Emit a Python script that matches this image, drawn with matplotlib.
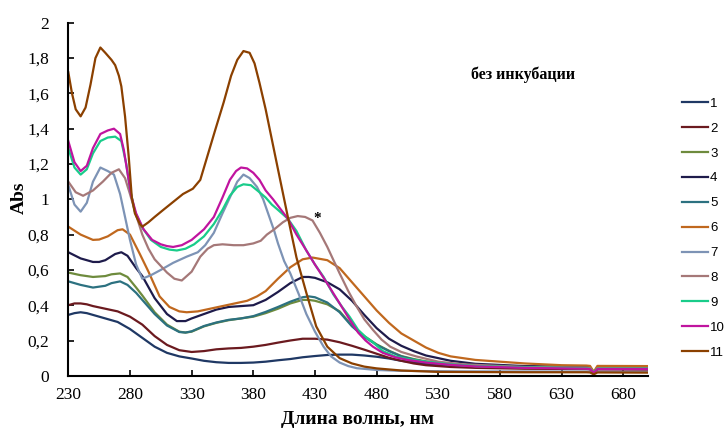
import matplotlib
matplotlib.use("Agg")
import matplotlib.pyplot as plt

# ---- spectra (wavelength, nm / absorbance) ----
wl_1 = [230, 235, 240, 245, 250, 260, 270, 280, 290, 300, 310, 320, 330, 340, 350, 360, 370, 380, 390, 400,
        410, 420, 430, 440, 450, 460, 470, 480, 490, 500, 520, 540, 560, 600, 650, 653, 656, 659, 700]
abs_1 = [0.345, 0.355, 0.36, 0.355, 0.345, 0.325, 0.305, 0.265, 0.215, 0.165, 0.13, 0.11, 0.098, 0.085, 0.077,
         0.073, 0.073, 0.075, 0.08, 0.088, 0.095, 0.105, 0.112, 0.118, 0.12, 0.12, 0.115, 0.108, 0.098, 0.085,
         0.068, 0.058, 0.052, 0.046, 0.042, 0.04, 0.018, 0.04, 0.038]

wl_2 = [230, 235, 240, 245, 250, 260, 270, 280, 290, 300, 310, 320, 330, 340, 350, 360, 370, 380, 390, 400,
        410, 420, 430, 440, 450, 460, 470, 480, 490, 500, 510, 520, 540, 560, 600, 650, 653, 656, 659, 700]
abs_2 = [0.40, 0.41, 0.41, 0.405, 0.395, 0.38, 0.365, 0.335, 0.29, 0.225, 0.175, 0.145, 0.135, 0.14, 0.15,
         0.155, 0.158, 0.165, 0.175, 0.188, 0.2, 0.21, 0.21, 0.205, 0.19, 0.17, 0.148, 0.125, 0.102, 0.085,
         0.07, 0.06, 0.05, 0.045, 0.04, 0.038, 0.036, 0.016, 0.036, 0.035]

wl_3 = [230, 240, 250, 260, 265, 272, 278, 285, 290, 300, 310, 320, 325, 330, 340, 350, 360, 370, 380, 390,
        400, 410, 420, 425, 430, 440, 450, 460, 470, 480, 490, 500, 510, 520, 540, 560, 600, 650, 653, 656,
        659, 700]
abs_3 = [0.585, 0.57, 0.56, 0.565, 0.575, 0.58, 0.56, 0.50, 0.455, 0.36, 0.29, 0.25, 0.245, 0.25, 0.28, 0.30,
         0.315, 0.325, 0.335, 0.355, 0.38, 0.41, 0.43, 0.43, 0.425, 0.405, 0.365, 0.285, 0.225, 0.178, 0.142,
         0.112, 0.095, 0.082, 0.065, 0.056, 0.05, 0.046, 0.044, 0.02, 0.044, 0.043]

wl_4 = [230, 240, 250, 255, 260, 268, 273, 278, 285, 290, 300, 310, 318, 325, 330, 340, 350, 360, 370, 380,
        390, 400, 410, 420, 425, 430, 440, 450, 460, 470, 480, 490, 500, 510, 520, 540, 560, 600, 650, 653,
        656, 659, 700]
abs_4 = [0.70, 0.665, 0.645, 0.645, 0.655, 0.69, 0.70, 0.68, 0.61, 0.565, 0.44, 0.35, 0.31, 0.31, 0.325, 0.35,
         0.375, 0.39, 0.395, 0.40, 0.43, 0.475, 0.525, 0.56, 0.56, 0.555, 0.53, 0.49, 0.425, 0.345, 0.27, 0.21,
         0.17, 0.14, 0.115, 0.085, 0.068, 0.055, 0.05, 0.048, 0.02, 0.048, 0.046]

wl_5 = [230, 240, 250, 260, 265, 272, 278, 285, 290, 300, 310, 320, 325, 330, 340, 350, 360, 370, 380, 390,
        400, 410, 420, 425, 430, 440, 450, 460, 470, 480, 490, 500, 510, 520, 540, 560, 600, 650, 653, 656,
        659, 700]
abs_5 = [0.535, 0.515, 0.50, 0.51, 0.525, 0.535, 0.515, 0.47, 0.43, 0.35, 0.285, 0.248, 0.245, 0.252, 0.282,
         0.302, 0.317, 0.325, 0.338, 0.362, 0.39, 0.42, 0.445, 0.45, 0.445, 0.415, 0.36, 0.28, 0.22, 0.175,
         0.14, 0.11, 0.092, 0.078, 0.062, 0.055, 0.05, 0.047, 0.045, 0.02, 0.045, 0.044]

wl_6 = [230, 240, 250, 255, 262, 270, 274, 280, 288, 295, 304, 312, 320, 326, 335, 345, 355, 365, 375, 383,
        390, 400, 410, 420, 428, 440, 450, 460, 470, 480, 490, 500, 510, 520, 530, 540, 560, 580, 600, 630,
        650, 653, 656, 659, 700]
abs_6 = [0.845, 0.80, 0.77, 0.772, 0.79, 0.825, 0.83, 0.80, 0.69, 0.59, 0.45, 0.39, 0.365, 0.36, 0.365, 0.38,
         0.395, 0.41, 0.425, 0.45, 0.48, 0.55, 0.615, 0.66, 0.67, 0.655, 0.61, 0.53, 0.45, 0.37, 0.30, 0.24,
         0.20, 0.16, 0.13, 0.11, 0.09, 0.08, 0.07, 0.06, 0.058, 0.056, 0.022, 0.056, 0.055]

wl_7 = [230, 235, 240, 245, 250, 256, 262, 267, 272, 276, 280, 285, 290, 297, 305, 315, 326, 335, 341, 348,
        355, 361, 367, 372, 377, 383, 388, 393, 397, 400, 405, 410, 417, 423, 430, 437, 443, 450, 457, 464,
        480, 500, 550, 650, 653, 656, 659, 700]
abs_7 = [1.08, 0.97, 0.93, 0.98, 1.10, 1.18, 1.16, 1.14, 1.03, 0.90, 0.77, 0.63, 0.55, 0.57, 0.60, 0.64, 0.675,
         0.70, 0.74, 0.81, 0.92, 1.01, 1.10, 1.14, 1.12, 1.07, 1.00, 0.90, 0.82, 0.75, 0.65, 0.58, 0.46, 0.35,
         0.25, 0.165, 0.11, 0.075, 0.055, 0.043, 0.033, 0.028, 0.025, 0.024, 0.023, 0.012, 0.023, 0.022]

wl_8 = [230, 236, 242, 250, 258, 265, 271, 276, 280, 285, 290, 295, 300, 310, 316, 322, 330, 337, 343, 348,
        355, 364, 372, 380, 386, 391, 397, 404, 410, 416, 422, 428, 434, 440, 450, 457, 464, 470, 477, 484,
        491, 500, 512, 530, 550, 600, 650, 653, 656, 659, 700]
abs_8 = [1.10, 1.04, 1.02, 1.05, 1.10, 1.15, 1.17, 1.12, 1.03, 0.91, 0.80, 0.72, 0.66, 0.585, 0.55, 0.54,
         0.59, 0.675, 0.72, 0.74, 0.745, 0.74, 0.74, 0.75, 0.765, 0.80, 0.83, 0.87, 0.895, 0.905, 0.90, 0.88,
         0.81, 0.73, 0.58, 0.48, 0.39, 0.32, 0.26, 0.205, 0.165, 0.135, 0.11, 0.08, 0.065, 0.05, 0.045, 0.043,
         0.02, 0.043, 0.042]

wl_9 = [230, 235, 240, 245, 250, 256, 262, 268, 273, 277, 280, 284, 290, 297, 305, 312, 318, 325, 332, 340,
        348, 355, 361, 367, 372, 378, 385, 390, 395, 400, 408, 415, 423, 430, 437, 445, 452, 458, 465, 471,
        477, 485, 495, 505, 520, 540, 560, 600, 650, 653, 656, 659, 700]
abs_9 = [1.29, 1.18, 1.14, 1.17, 1.26, 1.33, 1.35, 1.355, 1.33, 1.20, 1.06, 0.93, 0.84, 0.77, 0.73, 0.715,
         0.71, 0.72, 0.745, 0.79, 0.86, 0.94, 1.02, 1.07, 1.085, 1.08, 1.04, 1.01, 0.97, 0.94, 0.89, 0.82,
         0.71, 0.63, 0.56, 0.46, 0.39, 0.335, 0.26, 0.22, 0.19, 0.14, 0.11, 0.095, 0.08, 0.065, 0.055, 0.048,
         0.042, 0.04, 0.018, 0.04, 0.04]

wl_10 = [230, 235, 240, 245, 250, 256, 262, 267, 272, 275, 278, 281, 285, 291, 298, 305, 310, 315, 322, 330,
         340, 348, 355, 361, 366, 370, 375, 380, 385, 390, 396, 402, 408, 415, 423, 430, 437, 442, 450, 458,
         465, 471, 477, 485, 495, 505, 520, 540, 560, 600, 650, 653, 656, 659, 700]
abs_10 = [1.33, 1.21, 1.16, 1.19, 1.29, 1.37, 1.39, 1.40, 1.37, 1.28, 1.15, 1.02, 0.92, 0.83, 0.77, 0.745,
          0.735, 0.73, 0.74, 0.77, 0.83, 0.90, 1.01, 1.11, 1.16, 1.18, 1.175, 1.15, 1.11, 1.05, 1.00, 0.945,
          0.89, 0.80, 0.71, 0.63, 0.555, 0.50, 0.41, 0.32, 0.245, 0.20, 0.165, 0.13, 0.105, 0.09, 0.075, 0.062,
          0.053, 0.045, 0.04, 0.038, 0.016, 0.038, 0.038]

wl_11 = [230, 233, 236, 240, 244, 248, 252, 256, 260, 265, 268, 271, 273, 276, 279, 281.5, 284, 288, 290,
         295, 300, 307, 315, 323, 331, 337, 343, 349, 356, 362, 367, 372, 377, 381, 385, 390, 395, 400, 408,
         415, 423, 431, 440, 450, 460, 470, 480, 500, 530, 600, 650, 653, 656, 659, 700]
abs_11 = [1.72, 1.60, 1.51, 1.47, 1.52, 1.65, 1.80, 1.86, 1.83, 1.79, 1.76, 1.70, 1.64, 1.47, 1.24, 1.01,
          0.92, 0.86, 0.845, 0.87, 0.90, 0.94, 0.985, 1.03, 1.06, 1.11, 1.25, 1.39, 1.55, 1.70, 1.79, 1.84,
          1.83, 1.77, 1.66, 1.51, 1.34, 1.17, 0.90, 0.67, 0.47, 0.28, 0.165, 0.10, 0.07, 0.052, 0.042, 0.03,
          0.022, 0.02, 0.02, 0.019, 0.008, 0.019, 0.018]

series_labels = ["1", "2", "3", "4", "5", "6", "7", "8", "9", "10", "11"]
series_colors = ["#1F3864", "#6B1A1F", "#6E8B3D", "#1E1B4B", "#2C7180", "#C0681E",
                 "#7D93B5", "#A57878", "#19CC8A", "#C0149F", "#8B4000"]

x_ticks = [230, 280, 330, 380, 430, 480, 530, 580, 630, 680]
y_ticks = [0, 0.2, 0.4, 0.6, 0.8, 1.0, 1.2, 1.4, 1.6, 1.8, 2.0]
y_tick_labels = ["0", "0,2", "0,4", "0,6", "0,8", "1", "1,2", "1,4", "1,6", "1,8", "2"]

# mark annotated with an asterisk (curve 8 maximum region)
star_pos = (432, 0.89)

W, H = 726, 428
fig = plt.figure(figsize=(W / 100, H / 100), dpi=100)
ax = fig.add_axes([68.3 / W, 1 - 375.8 / H, (648 - 68.3) / W, (375.8 - 22.8) / H])

all_wl = [wl_1, wl_2, wl_3, wl_4, wl_5, wl_6, wl_7, wl_8, wl_9, wl_10, wl_11]
all_abs = [abs_1, abs_2, abs_3, abs_4, abs_5, abs_6, abs_7, abs_8, abs_9, abs_10, abs_11]
for x, y, lab, col in zip(all_wl, all_abs, series_labels, series_colors):
    ax.plot(x, y, color=col, lw=1.6, label=lab, solid_joinstyle="round")

ax.set_xlim(230, 700)
ax.set_ylim(0, 2)
serif = "Liberation Serif"
ax.set_xticks(x_ticks)
ax.set_xticklabels([str(v) for v in x_ticks], family=serif, fontsize=12.5)
ax.set_yticks(y_ticks)
ax.set_yticklabels(y_tick_labels, family=serif, fontsize=12.5)
ax.tick_params(direction="in", length=4, width=1.2, color="black", pad=8)
ax.tick_params(axis="y", pad=14)
for side in ("top", "right"):
    ax.spines[side].set_visible(False)
for side in ("left", "bottom"):
    ax.spines[side].set_linewidth(1.5)

ax.text(*star_pos, "*", family=serif, fontweight="bold", fontsize=11, ha="center", va="center")

fig.text(357.5 / W, 1 - 419.0 / H, "Длина волны, нм", family=serif, fontweight="bold",
         fontsize=14, ha="center", va="center")
fig.text(19.3 / W, 1 - 197.5 / H, "Abs", family=serif, fontweight="bold",
         fontsize=14, ha="center", va="center", rotation=90)
fig.text(523 / W, 1 - 75 / H, "без инкубации", family=serif, fontweight="bold",
         fontsize=11.5, ha="center", va="center")

fig.legend(loc="upper left", bbox_to_anchor=(681.7 / W, 1 - 97.5 / H), frameon=False,
           prop={"family": "Liberation Sans", "size": 9.5}, handlelength=2.0, handletextpad=0.15,
           labelspacing=0.96, borderpad=0, borderaxespad=0)

fig.savefig("out.png", dpi=100)
